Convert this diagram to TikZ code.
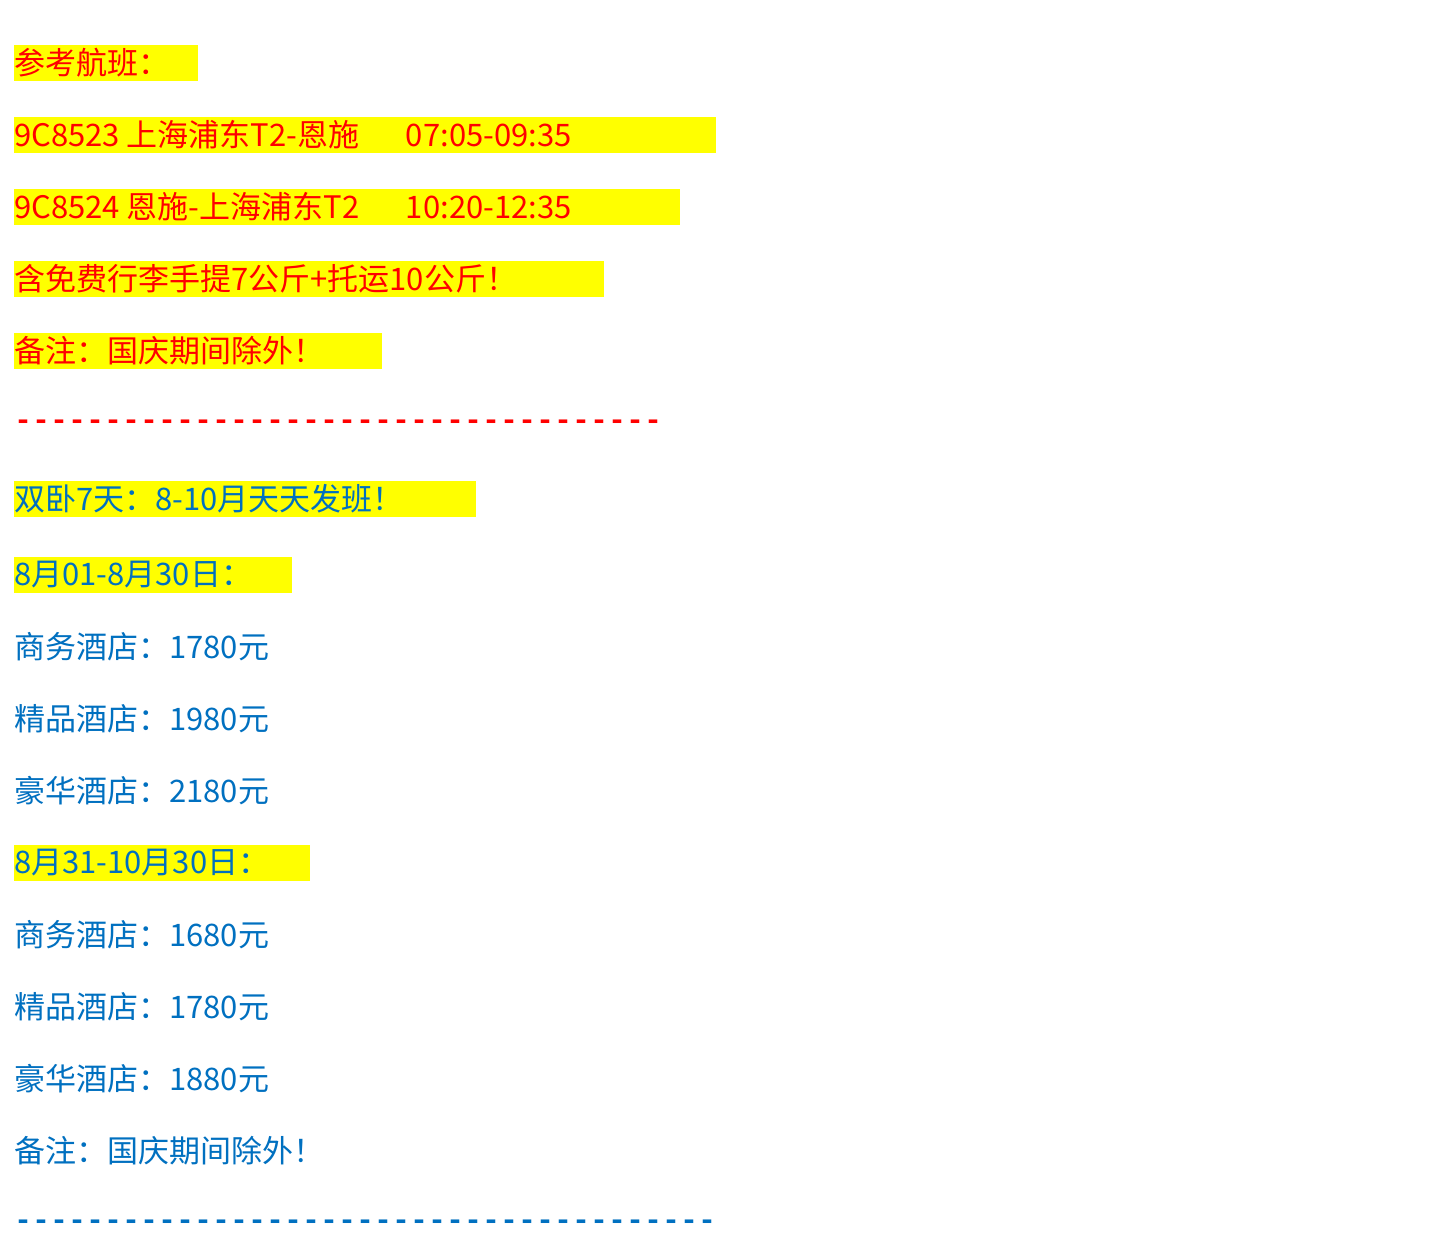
\documentclass[tikz,border=0pt]{standalone}
\usepackage{fontspec}
\setmainfont{Noto Sans CJK SC}
\newfontfamily\dashfont{Liberation Mono}
\definecolor{hl}{HTML}{FFFF00}
\definecolor{rd}{HTML}{FF0000}
\definecolor{bl}{HTML}{0070C0}
\begin{document}
\begin{tikzpicture}[x=1pt,y=-1pt,
  txt/.style={anchor=west,inner sep=0pt,font=\fontsize{31}{31}\selectfont},
  rt/.style={txt,text=rd}, bt/.style={txt,text=bl},
  dsh/.style={anchor=west,inner sep=0pt,font=\dashfont\bfseries\fontsize{30}{30}\selectfont}]
\useasboundingbox (0,0) rectangle (1454,1254);
\fill[white] (0,0) rectangle (1454,1254);
\foreach \y/\w in {63/198,135/716,207/680,279/604,351/382,499/476,575/292,863/310}
  \fill[hl] (14,\y-18) rectangle (\w,\y+18);
\node[rt] (l1) at (14,63) {参考航班：};
\node[rt] (l2) at (14,135) {9C8523 上海浦东T2-恩施\hspace{1.5em}07:05-09:35};
\node[rt] (l3) at (14,207) {9C8524 恩施-上海浦东T2\hspace{1.5em}10:20-12:35};
\node[rt] (l4) at (14,279) {含免费行李手提7公斤+托运10公斤！};
\node[rt] (l5) at (14,351) {备注：国庆期间除外！};
\node[dsh,text=rd] (d1) at (14,425) {------------------------------------};
\node[bt] (l7) at (14,499) {双卧7天：8-10月天天发班！};
\node[bt] (l8) at (14,575) {8月01-8月30日：};
\node[bt] (l9) at (14,647) {商务酒店：1780元};
\node[bt] (l10) at (14,719) {精品酒店：1980元};
\node[bt] (l11) at (14,791) {豪华酒店：2180元};
\node[bt] (l12) at (14,863) {8月31-10月30日：};
\node[bt] (l13) at (14,935) {商务酒店：1680元};
\node[bt] (l14) at (14,1007) {精品酒店：1780元};
\node[bt] (l15) at (14,1079) {豪华酒店：1880元};
\node[bt] (l16) at (14,1151) {备注：国庆期间除外！};
\node[dsh,text=bl] (d2) at (14,1225) {---------------------------------------};
\end{tikzpicture}
\end{document}
